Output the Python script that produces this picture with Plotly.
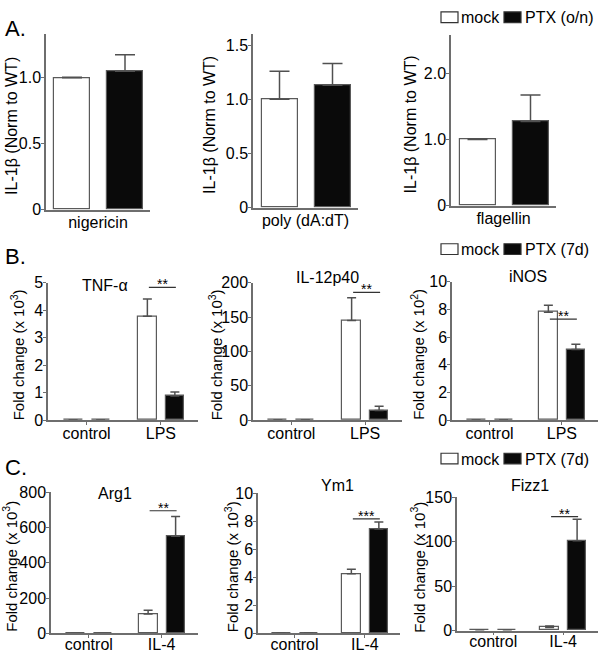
import plotly.graph_objects as go

# ---------------- data ----------------
# A. IL-1b release, normalised to WT
a_stimuli = ["nigericin", "poly (dA:dT)", "flagellin"]
a_mock = [1.0, 1.0, 1.0]
a_mock_err = [0.005, 0.26, 0.01]
a_ptx = [1.05, 1.13, 1.27]
a_ptx_err = [0.125, 0.20, 0.40]
a_yticks = [[0, 0.5, 1.0], [0, 0.5, 1.0, 1.5], [0, 1.0, 2.0]]
a_yticktext = [["0", "0.5", "1.0"], ["0", "0.5", "1.0", "1.5"], ["0", "1.0", "2.0"]]

# B. M1 genes after LPS
b_groups = ["control", "LPS"]
b_genes = ["TNF-α", "IL-12p40", "iNOS"]
b_exponent = ["3", "3", "2"]
tnf_mock = [0.001, 3.78]
tnf_mock_err = [0, 0.63]
tnf_ptx = [0.001, 0.88]
tnf_ptx_err = [0, 0.14]
il12_mock = [0.05, 145]
il12_mock_err = [0, 33]
il12_ptx = [0.05, 14]
il12_ptx_err = [0, 6]
inos_mock = [0.01, 7.8]
inos_mock_err = [0, 0.5]
inos_ptx = [0.01, 5.1]
inos_ptx_err = [0, 0.38]
b_sig = ["**", "**", "**"]
b_yticks = [[0, 1, 2, 3, 4, 5], [0, 50, 100, 150, 200], [0, 2, 4, 6, 8, 10]]

# C. M2 genes after IL-4
c_groups = ["control", "IL-4"]
c_genes = ["Arg1", "Ym1", "Fizz1"]
c_exponent = ["3", "3", "3"]
arg1_mock = [0.2, 110]
arg1_mock_err = [0, 22]
arg1_ptx = [0.2, 550]
arg1_ptx_err = [0, 112]
ym1_mock = [0.01, 4.25]
ym1_mock_err = [0, 0.33]
ym1_ptx = [0.01, 7.45]
ym1_ptx_err = [0, 0.5]
fizz1_mock = [0.1, 3.5]
fizz1_mock_err = [0, 1.5]
fizz1_ptx = [0.1, 101]
fizz1_ptx_err = [0, 24]
c_sig = ["**", "***", "**"]
c_yticks = [[0, 200, 400, 600, 800], [0, 2, 4, 6, 8, 10], [0, 50, 100, 150]]

legend_labels = [["mock", "PTX (o/n)"], ["mock", "PTX (7d)"], ["mock", "PTX (7d)"]]

# ---------------- layout helpers ----------------
W, H = 600, 660
FONT = "Liberation Sans, Arial, sans-serif"
AXIS_GREY = "#6e6e6e"
BAR_EDGE = "#5a5a5a"


def px_x(v):
    return v / W


def px_y(v):
    return 1 - v / H


# subplot boxes in pixels: left, right, top, bottom
boxes = [
    (46, 150, 27, 207), (253, 358, 27, 205), (451, 556, 28, 203),
    (48, 198, 282, 423), (253, 402, 282, 423), (452, 598, 281, 423),
    (51, 198, 497, 642), (258, 400, 498, 642), (457, 598, 502, 639),
]
# y title centre (x px)
ytitle_x = [12, 210, 410, 17, 215, 418, 10, 231, 418]
# x tick label nudge per row (px, negative = closer to axis)
xlabel_standoff = [-3, -3, -3, -5, -5, -5, -7, -7, -7]
# gene title centre (x px, y px)
gene_pos = [(105, 285), (327, 277), (528, 276), (115, 498), (337, 490), (530, 490)]
# legend rows (y centre px)
legend_y = [10, 248, 463]

fig = go.Figure()
layout = dict(
    width=W, height=H, margin=dict(l=0, r=0, t=0, b=0),
    plot_bgcolor="white", paper_bgcolor="white",
    font=dict(family=FONT, size=16, color="black"),
    showlegend=False, bargap=0,
)
annotations = []
shapes = []


def add_panel(i, cats, mock, mock_err, ptx, ptx_err, yrange, yticks, yticktext,
              ytitle, xrange, white_px, black_px, capw, sig=None, sig_y=None):
    n = i + 1
    xa = "x" if n == 1 else "x%d" % n
    ya = "y" if n == 1 else "y%d" % n
    left, right, top, bottom = boxes[i]
    unit = (right - left) / (xrange[1] - xrange[0])
    pos = list(range(len(cats)))
    for vals, errs, fill, (p0, p1) in ((mock, mock_err, "white", white_px),
                                        (ptx, ptx_err, "#0a0a0a", black_px)):
        fig.add_trace(go.Bar(
            x=pos, y=vals, xaxis=xa, yaxis=ya,
            width=(p1 - p0) / unit, offset=p0 / unit,
            marker=dict(color=fill, line=dict(color=BAR_EDGE, width=1.2)),
            error_y=dict(type="data", array=errs, arrayminus=[0] * len(errs),
                         symmetric=False, color="#505050", thickness=1.5, width=capw),
            hoverinfo="skip",
        ))
    layout["xaxis" if n == 1 else "xaxis%d" % n] = dict(
        domain=[px_x(left), px_x(right)], anchor=ya, range=xrange,
        tickvals=pos, ticktext=cats, showline=True, linecolor=AXIS_GREY, linewidth=1.5,
        ticks="outside" if len(cats) > 1 else "", ticklen=3, tickcolor=AXIS_GREY,
        showgrid=False, zeroline=False, fixedrange=True, tickfont=dict(size=16),
        ticklabelstandoff=xlabel_standoff[i],
    )
    layout["yaxis" if n == 1 else "yaxis%d" % n] = dict(
        domain=[px_y(bottom), px_y(top)], anchor=xa, range=yrange,
        tickvals=yticks, ticktext=yticktext, showline=True, linecolor=AXIS_GREY,
        linewidth=1.5, ticks="outside", ticklen=3, tickcolor=AXIS_GREY,
        showgrid=False, zeroline=False, fixedrange=True, tickfont=dict(size=16),
        ticklabelstandoff=-3,
    )
    annotations.append(dict(
        text=ytitle, xref="paper", yref="paper", x=px_x(ytitle_x[i]),
        y=px_y((top + bottom) / 2 + 4), textangle=-90, showarrow=False,
        xanchor="center", yanchor="middle",
        font=dict(size=16 if n <= 3 else 15),
    ))
    if sig is not None:
        x0 = 1 + (-12) / unit
        x1 = 1 + 15 / unit
        shapes.append(dict(type="line", xref=xa, yref=ya, x0=x0, x1=x1,
                           y0=sig_y, y1=sig_y, line=dict(color="#333", width=1.2)))
        annotations.append(dict(text=sig, xref=xa, yref=ya, x=(x0 + x1) / 2, y=sig_y,
                                showarrow=False, yanchor="bottom", yshift=-7,
                                font=dict(size=14)))


# Row A
a_ranges = [[0, 1.33], [0, 1.6], [0, 2.57]]
for k in range(3):
    add_panel(k, [a_stimuli[k]], [a_mock[k]], [a_mock_err[k]], [a_ptx[k]], [a_ptx_err[k]],
              a_ranges[k], a_yticks[k], a_yticktext[k], "IL-1β (Norm to WT)",
              [-0.5, 0.5], (-44, -8), (9, 45), 10)

# Row B
b_data = [(tnf_mock, tnf_mock_err, tnf_ptx, tnf_ptx_err),
          (il12_mock, il12_mock_err, il12_ptx, il12_ptx_err),
          (inos_mock, inos_mock_err, inos_ptx, inos_ptx_err)]
b_ranges = [[0, 5], [0, 200], [0, 10]]
b_sig_y = [4.83, 186, 7.3]
for k in range(3):
    m, me, p, pe = b_data[k]
    add_panel(3 + k, b_groups, m, me, p, pe, b_ranges[k], b_yticks[k],
              [str(t) for t in b_yticks[k]],
              "Fold change (x 10<sup>%s</sup>)" % b_exponent[k],
              [-0.52, 1.5], (-23, -4), (5, 23), 4.5, b_sig[k], b_sig_y[k])

# Row C
c_data = [(arg1_mock, arg1_mock_err, arg1_ptx, arg1_ptx_err),
          (ym1_mock, ym1_mock_err, ym1_ptx, ym1_ptx_err),
          (fizz1_mock, fizz1_mock_err, fizz1_ptx, fizz1_ptx_err)]
c_ranges = [[0, 800], [0, 10], [0, 150]]
c_sig_y = [695, 8.17, 128]
for k in range(3):
    m, me, p, pe = c_data[k]
    add_panel(6 + k, c_groups, m, me, p, pe, c_ranges[k], c_yticks[k],
              [str(t) for t in c_yticks[k]],
              "Fold change (x 10<sup>%s</sup>)" % c_exponent[k],
              [-0.52, 1.5], (-23, -4), (5, 23), 4.5, c_sig[k], c_sig_y[k])

# gene titles
for (gx, gy), name in zip(gene_pos, b_genes + c_genes):
    annotations.append(dict(text=name, xref="paper", yref="paper", x=px_x(gx), y=px_y(gy),
                            showarrow=False, xanchor="center", yanchor="middle",
                            font=dict(size=16)))

# panel letters
for letter, ly in (("A.", 21), ("B.", 255), ("C.", 472)):
    annotations.append(dict(text=letter, xref="paper", yref="paper", x=px_x(3), y=px_y(ly),
                            showarrow=False, xanchor="left", yanchor="middle",
                            font=dict(size=22)))

# legends
for (lab_mock, lab_ptx), ly in zip(legend_labels, legend_y):
    for fill, sx, lab, tx in (("white", 441, lab_mock, 459), ("#0a0a0a", 504, lab_ptx, 523)):
        shapes.append(dict(type="rect", xref="paper", yref="paper",
                           x0=px_x(sx), x1=px_x(sx + 17), y0=px_y(ly + 5), y1=px_y(ly - 6),
                           fillcolor=fill, line=dict(color="#333", width=1.2)))
        annotations.append(dict(text=lab, xref="paper", yref="paper", x=px_x(tx), y=px_y(ly),
                                showarrow=False, xanchor="left", yanchor="middle",
                                font=dict(size=16)))

layout["annotations"] = annotations
layout["shapes"] = shapes
fig.update_layout(**layout)
# drop the default page margin so the 600x660 figure fills the window exactly
fig.write_html("out.html", config={"displayModeBar": False},
               post_script="document.body.style.margin='0px';")
